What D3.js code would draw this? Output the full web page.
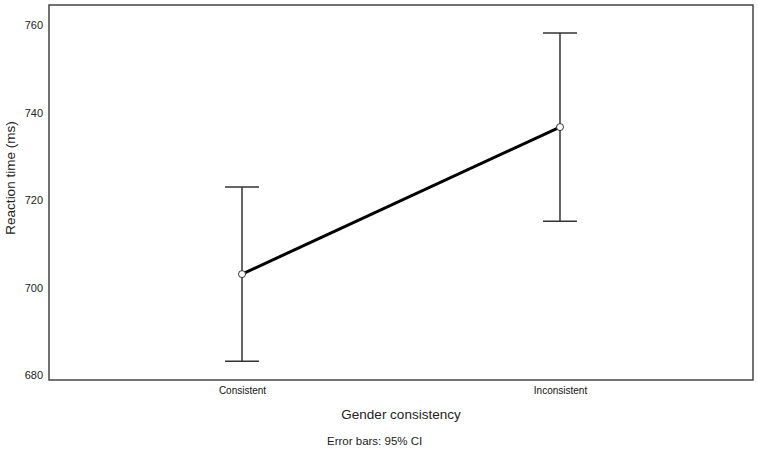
<!DOCTYPE html>
<html lang="en">
<head>
<meta charset="UTF-8" />
<title>Reaction time by gender consistency</title>
<script src="https://d3js.org/d3.v7.min.js"></script>
<style>
  body { margin: 0; background: #fff; font-family: Arial, "Liberation Sans", sans-serif; }
  svg { display: block; }
</style>
</head>
<body>
<svg width="758" height="452"></svg>
<script>
  const categories = ["Consistent", "Inconsistent"];
  const means = [703.1, 736.7];
  const ciLow = [683.2, 715.2];
  const ciHigh = [723.0, 758.2];
  const yTicks = [680, 700, 720, 740, 760];

  const svg = d3.select("svg");
  const box = {left: 49, top: 5, right: 753, bottom: 380};

  const x = d3.scalePoint()
              .domain(categories)
              .range([box.left, box.right])
              .padding(0.607);

  const y = d3.scaleLinear()
              .domain([678.9, 764.6])
              .range([box.bottom, box.top]);

  // plot frame
  svg.append("rect")
     .attr("x", box.left)
     .attr("y", box.top)
     .attr("width", box.right - box.left)
     .attr("height", box.bottom - box.top)
     .attr("fill", "none")
     .attr("stroke", "#444")
     .attr("stroke-width", 1.5);

  // y axis labels (no tick marks)
  const yAxis = svg.append("g")
     .attr("transform", `translate(${box.left},0)`)
     .call(d3.axisLeft(y).tickValues(yTicks).tickSize(0).tickPadding(6));
  yAxis.select(".domain").remove();
  yAxis.selectAll("text")
       .attr("font-family", "Arial, 'Liberation Sans', sans-serif")
       .attr("font-size", 11)
       .attr("fill", "#222");

  // x axis labels
  const xAxis = svg.append("g")
     .attr("transform", `translate(0,${box.bottom})`)
     .call(d3.axisBottom(x).tickSize(0).tickPadding(7));
  xAxis.select(".domain").remove();
  xAxis.selectAll("text")
       .attr("font-family", "Arial, 'Liberation Sans', sans-serif")
       .attr("font-size", 10)
       .attr("fill", "#111");

  const rows = categories.map((c, i) => ({c, m: means[i], lo: ciLow[i], hi: ciHigh[i]}));

  // error bars
  const eb = svg.append("g").attr("stroke", "#333").attr("stroke-width", 1.5);
  rows.forEach(d => {
    eb.append("line").attr("x1", x(d.c)).attr("x2", x(d.c)).attr("y1", y(d.lo)).attr("y2", y(d.hi));
    eb.append("line").attr("x1", x(d.c) - 17).attr("x2", x(d.c) + 17).attr("y1", y(d.lo)).attr("y2", y(d.lo));
    eb.append("line").attr("x1", x(d.c) - 17).attr("x2", x(d.c) + 17).attr("y1", y(d.hi)).attr("y2", y(d.hi));
  });

  // mean line
  svg.append("path")
     .datum(rows)
     .attr("fill", "none")
     .attr("stroke", "#000")
     .attr("stroke-width", 3)
     .attr("d", d3.line().x(d => x(d.c)).y(d => y(d.m)));

  svg.selectAll(".pt")
     .data(rows)
     .enter()
     .append("circle")
     .attr("cx", d => x(d.c))
     .attr("cy", d => y(d.m))
     .attr("r", 3.5)
     .attr("fill", "#fff")
     .attr("stroke", "#333")
     .attr("stroke-width", 1);

  // titles
  svg.append("text")
     .attr("x", 401)
     .attr("y", 419)
     .attr("text-anchor", "middle")
     .attr("font-size", 13.5)
     .attr("fill", "#222")
     .text("Gender consistency");

  svg.append("text")
     .attr("transform", `translate(15,178) rotate(-90)`)
     .attr("text-anchor", "middle")
     .attr("font-size", 13.5)
     .attr("fill", "#222")
     .text("Reaction time (ms)");

  svg.append("text")
     .attr("x", 327)
     .attr("y", 445)
     .attr("font-size", 11.5)
     .attr("fill", "#222")
     .text("Error bars: 95% CI");
</script>
</body>
</html>
